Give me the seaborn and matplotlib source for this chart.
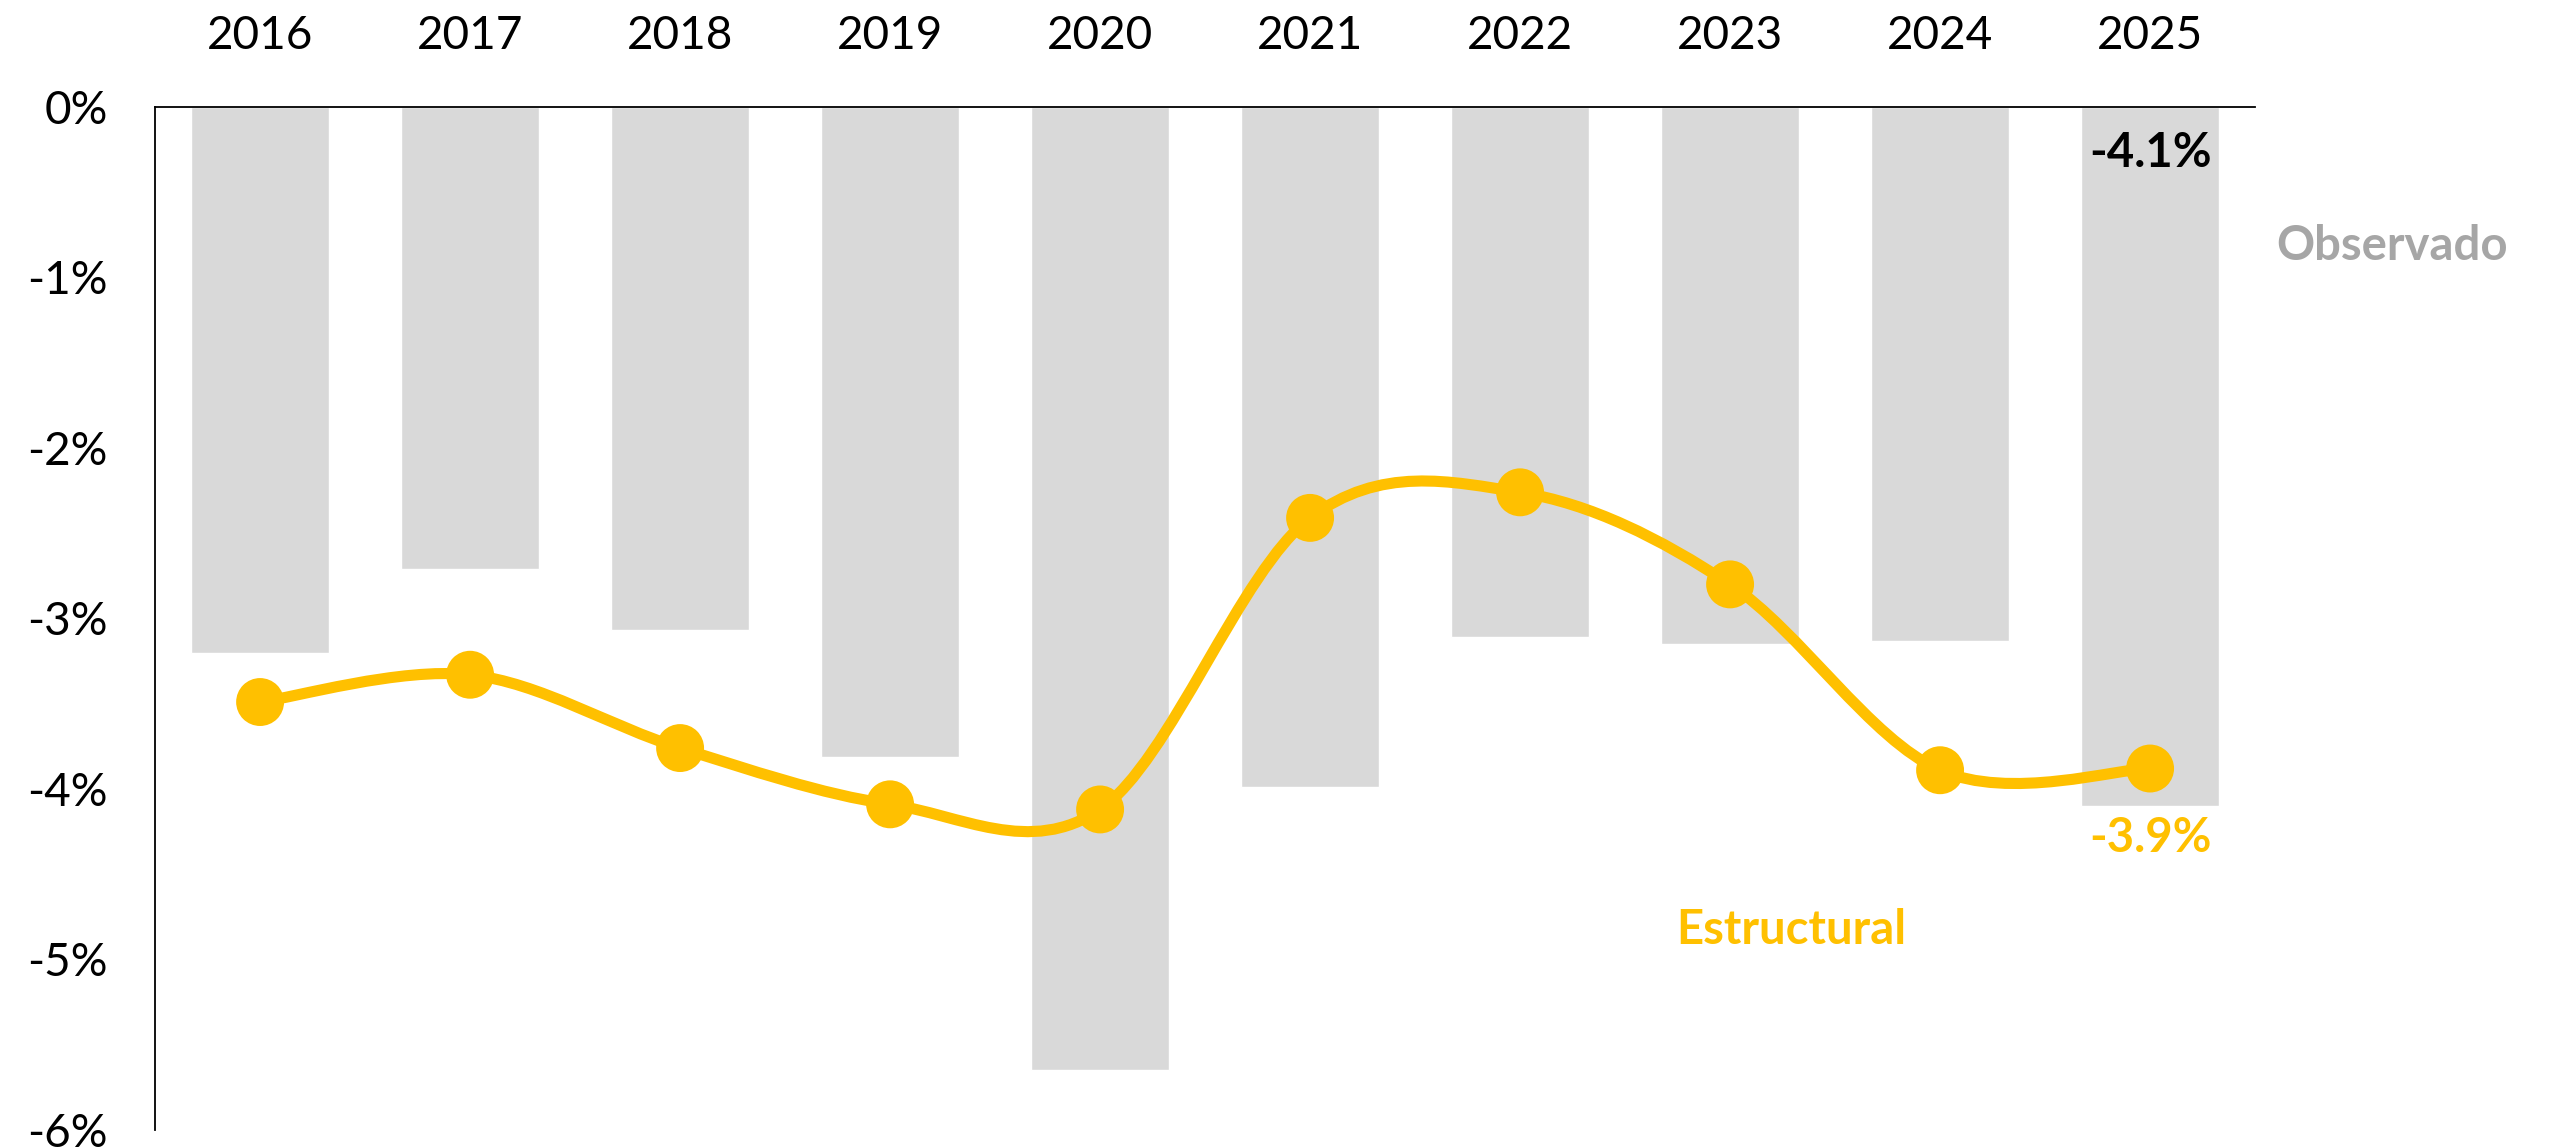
import numpy as np
import pandas as pd
import seaborn as sns
import matplotlib.pyplot as plt
from matplotlib.path import Path
from matplotlib.patches import PathPatch

years = ['2016', '2017', '2018', '2019', '2020', '2021', '2022', '2023', '2024', '2025']
observado = [-3.20, -2.71, -3.07, -3.81, -5.65, -3.99, -3.11, -3.15, -3.13, -4.10]
estructural = [-3.49, -3.33, -3.76, -4.09, -4.12, -2.41, -2.26, -2.80, -3.89, -3.88]
yticks = [0, -1, -2, -3, -4, -5, -6]

GOLD = '#FFC000'
GREY_BAR = '#D9D9D9'
GREY_TXT = '#A6A6A6'

sns.set_style('white')
plt.rcParams['font.family'] = ['Lato', 'DejaVu Sans']

df = pd.DataFrame({'year': years, 'obs': observado, 'est': estructural})

fig = plt.figure(figsize=(25.51, 11.48), dpi=100)
ax = fig.add_axes([0.0608, 0.0157, 0.8232, 0.8911])

sns.barplot(data=df, x='year', y='obs', color=GREY_BAR, width=0.66,
            saturation=1, ax=ax, zorder=1)

# smooth line (Excel-style smoothing: Catmull-Rom as cubic Bezier segments)
xs = np.arange(len(years), dtype=float)
ys = np.array(estructural)
pts = np.column_stack([xs, ys])
verts = [pts[0]]
codes = [Path.MOVETO]
for i in range(len(pts) - 1):
    p0 = pts[max(i - 1, 0)]
    p1 = pts[i]
    p2 = pts[i + 1]
    p3 = pts[min(i + 2, len(pts) - 1)]
    c1 = p1 + (p2 - p0) / 6.0
    c2 = p2 - (p3 - p1) / 6.0
    verts += [c1, c2, p2]
    codes += [Path.CURVE4] * 3
ax.add_patch(PathPatch(Path(verts, codes), facecolor='none', edgecolor=GOLD,
                       lw=8, zorder=3, capstyle='round'))

sns.scatterplot(data=df, x='year', y='est', color=GOLD, s=34.5**2,
                edgecolor='none', ax=ax, zorder=4)

ax.set_xlim(-0.5, len(years) - 0.5)
ax.set_ylim(-6, 0)
ax.set_yticks(yticks)
ax.set_yticklabels([f'{v}%' for v in yticks])
ax.xaxis.tick_top()
ax.tick_params(axis='x', length=0, pad=36, labelsize=33, colors='black')
ax.tick_params(axis='y', length=0, pad=34, labelsize=33, colors='black')
ax.set_xlabel('')
ax.set_ylabel('')

for side in ['right', 'bottom']:
    ax.spines[side].set_visible(False)
for side in ['left', 'top']:
    ax.spines[side].set_color('black')
    ax.spines[side].set_linewidth(1.3)

ax.text(len(years) - 1, -0.27, f'{observado[-1]:.1f}%', ha='center', va='center',
        fontsize=34, fontweight='bold', color='black', zorder=5)
ax.text(len(years) - 1, -4.29, f'{estructural[-1]:.1f}%', ha='center', va='center',
        fontsize=34, fontweight='bold', color=GOLD, zorder=5)
ax.text(9.6, -0.815, 'Observado', ha='left', va='center',
        fontsize=34, fontweight='bold', color=GREY_TXT, clip_on=False)
ax.text(7.29, -4.83, 'Estructural', ha='center', va='center',
        fontsize=34, fontweight='bold', color=GOLD)

fig.savefig('out.png', dpi=100)
